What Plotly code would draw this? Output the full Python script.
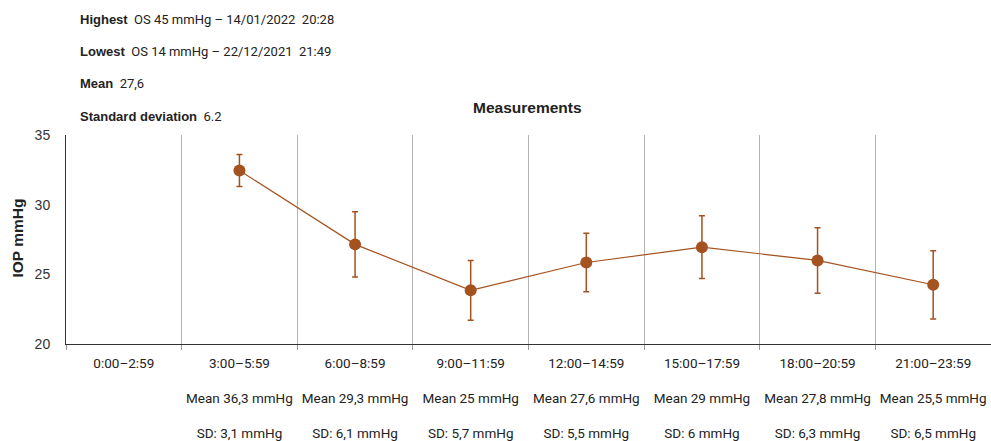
import plotly.graph_objects as go

categories = ["0:00–2:59", "3:00–5:59", "6:00–8:59", "9:00–11:59",
              "12:00–14:59", "15:00–17:59", "18:00–20:59", "21:00–23:59"]
point_values = [None, 32.45, 27.15, 23.85, 25.85, 26.95, 26.0, 24.25]
error_values = [None, 1.15, 2.35, 2.15, 2.1, 2.25, 2.35, 2.45]
mean_labels = [None, "36,3", "29,3", "25", "27,6", "29", "27,8", "25,5"]
sd_labels = [None, "3,1", "6,1", "5,7", "5,5", "6", "6,3", "6,5"]

info_lines = [
    ("Highest", "OS 45 mmHg – 14/01/2022\u00a0\u00a020:28"),
    ("Lowest", "OS 14 mmHg – 22/12/2021\u00a0\u00a021:49"),
    ("Mean", "27,6"),
    ("Standard deviation", "6.2"),
]

COLOR = "#a4521f"
VALUE_FONT = "Roboto"
LABEL_FONT = "Liberation Sans, Arial, sans-serif"

ticktext = []
for c, m, s in zip(categories, mean_labels, sd_labels):
    if m is None:
        ticktext.append(c)
    else:
        ticktext.append(f"{c}<br><br>Mean {m} mmHg<br><br>SD: {s} mmHg")

fig = go.Figure()
fig.add_trace(go.Scatter(
    x=categories, y=point_values,
    mode="lines+markers",
    line=dict(color=COLOR, width=1.2),
    marker=dict(color=COLOR, size=12),
    error_y=dict(type="data", array=error_values, visible=True,
                 color=COLOR, thickness=1.5, width=3),
    showlegend=False,
    hoverinfo="skip",
))

W, H = 991, 441
ml, mr, mt, mb = 66, 0, 135, 94
pw = W - ml - mr
ph = H - mt - mb

def px_x(x):
    return (x - ml) / pw

def px_y(y):
    return (H - mb - y) / ph

annotations = []
for i, (lab, val) in enumerate(info_lines):
    y_pix = [18, 50, 83, 116][i]
    annotations.append(dict(
        xref="paper", yref="paper", x=px_x(78), y=px_y(y_pix),
        xanchor="left", yanchor="middle", showarrow=False,
        text=f"<span style='font-family:{LABEL_FONT}'><b>{lab}</b></span>\u00a0\u00a0{val}",
        font=dict(family=VALUE_FONT, size=13, color="#222"),
    ))

annotations.append(dict(
    xref="paper", yref="paper", x=px_x(527), y=px_y(107),
    xanchor="center", yanchor="middle", showarrow=False,
    text="<b>Measurements</b>",
    font=dict(family=LABEL_FONT, size=15.5, color="#222"),
))
annotations.append(dict(
    xref="paper", yref="paper", x=px_x(18), y=px_y(240),
    xanchor="center", yanchor="middle", showarrow=False, textangle=-90,
    text="<b>IOP mmHg</b>",
    font=dict(family=LABEL_FONT, size=15.5, color="#222"),
))

fig.update_layout(
    width=W, height=H,
    margin=dict(l=ml, r=mr, t=mt, b=mb, pad=0),
    paper_bgcolor="white", plot_bgcolor="white",
    annotations=annotations,
    xaxis=dict(
        type="category", categoryorder="array", categoryarray=categories,
        tickmode="array", tickvals=categories, ticktext=ticktext,
        tickson="boundaries", ticks="outside", ticklen=5, tickcolor="#999",
        showgrid=True, gridcolor="#b4b4b4", gridwidth=1,
        showline=True, linecolor="#333", linewidth=1,
        tickangle=0, ticklabelstandoff=7,
        tickfont=dict(family=VALUE_FONT, size=13.5, color="#222"),
        range=[-0.5, 7.5], fixedrange=True,
    ),
    yaxis=dict(
        range=[20, 35], tickvals=[20, 25, 30, 35],
        showgrid=False, zeroline=False,
        showline=True, linecolor="#333", linewidth=1,
        ticks="", ticklabelstandoff=12,
        tickfont=dict(family=LABEL_FONT, size=14, color="#333"),
        fixedrange=True,
    ),
)

fig.write_html("out.html")
